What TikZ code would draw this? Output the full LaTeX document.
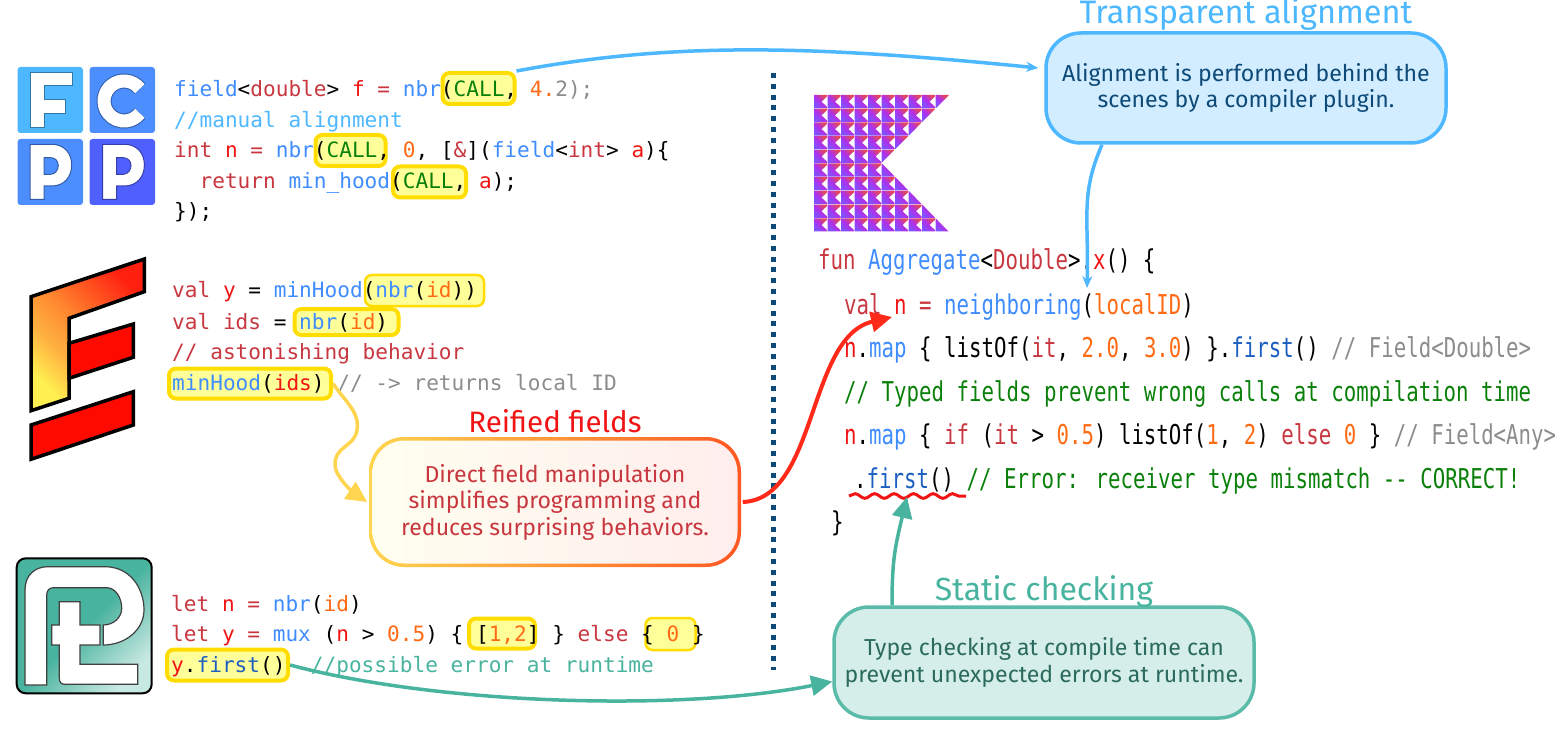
\documentclass[tikz,border=0pt]{standalone}
\usepackage{fontspec}
\usepackage{tikz}
\usetikzlibrary{positioning,arrows.meta,decorations.pathmorphing}
\setmainfont{Fira Sans}
\newfontfamily\codefont{DejaVu Sans Mono}
\newfontfamily\widecodefont[FakeStretch=0.76]{DejaVu Sans Mono}
\definecolor{kwred}{HTML}{C8373F}
\definecolor{varred}{HTML}{F01414}
\definecolor{fnblue}{HTML}{3F8CFF}
\definecolor{deepblue}{HTML}{1C5FC0}
\definecolor{litorange}{HTML}{FF6A14}
\definecolor{greyish}{HTML}{8C8C8C}
\definecolor{dgreen}{HTML}{0A800A}
\definecolor{skyblue}{HTML}{4DB8FF}
\definecolor{navy}{HTML}{0E4A78}
\definecolor{teal}{HTML}{48B39E}
\definecolor{hlline}{HTML}{FFDD00}
\definecolor{hlfill}{HTML}{FFFF99}
\definecolor{softyellow}{HTML}{FFD54F}
\definecolor{hotorange}{HTML}{FF5722}
\definecolor{hotred}{HTML}{FF2A1A}
\definecolor{funA}{HTML}{FFF050}
\definecolor{funB}{HTML}{FFB040}
\definecolor{funC}{HTML}{FF8A30}
\definecolor{funD}{HTML}{FF2010}
\pgfdeclareverticalshading{funshade}{100bp}{color(0bp)=(funA); color(25bp)=(funA); color(38bp)=(funB); color(50bp)=(funC); color(75bp)=(funD); color(100bp)=(funD)}
\newcommand{\kw}[1]{\textcolor{kwred}{#1}}
\newcommand{\vr}[1]{\textcolor{varred}{#1}}
\newcommand{\fn}[1]{\textcolor{fnblue}{#1}}
\newcommand{\dfn}[1]{\textcolor{deepblue}{#1}}
\newcommand{\lit}[1]{\textcolor{litorange}{#1}}
\newcommand{\gry}[1]{\textcolor{greyish}{#1}}
\newcommand{\grn}[1]{\textcolor{dgreen}{#1}}
\begin{document}
\begin{tikzpicture}[x=1pt,y=-1pt,
                hilite/.style={draw=hlline, fill=hlfill, rounded corners=7pt, line width=4pt, inner sep=0pt},
                thinhilite/.style={hilite, line width=2.5pt},
                code/.style={anchor=base west, inner sep=0pt, font=\codefont\fontsize{21.1}{21.1}\selectfont},
                rcode/.style={anchor=base west, inner sep=0pt, font=\widecodefont\fontsize{27.3}{27.3}\selectfont},
                callout/.style={rounded corners=35pt, line width=3.5pt, align=center, inner sep=0pt,
                  font=\fontsize{23.1}{26.5}\selectfont},
                headline/.style={inner sep=0pt, font=\fontsize{32}{32}\selectfont},
                arrow/.style={line width=3.5pt, -{Triangle[length=21pt,width=20pt]}},
                finearrow/.style={line width=3.5pt, -{Stealth[length=12pt,width=10pt]}},
                lettershape/.style={fill=white, draw=black!35!#1, line width=1pt, even odd rule},
                kotlintile/.style={bottom color=kotlinA, top color=kotlinC, middle color=kotlinB, shading angle=-45}]
  \definecolor{kotlinA}{HTML}{7F52FF}
  \definecolor{kotlinB}{HTML}{B030E8}
  \definecolor{kotlinC}{HTML}{E44857}
  \definecolor{fcppA}{HTML}{4DB8FF}
  \definecolor{fcppB}{HTML}{4D8EFF}
  \definecolor{fcppC}{HTML}{5060FF}
  \useasboundingbox (0,0) rectangle (1555,735);

  \fill[fcppA, rounded corners=3pt] (17.5,67) rectangle (83,133);
  \fill[fcppB, rounded corners=3pt] (89.5,67) rectangle (155,133);
  \fill[fcppB, rounded corners=3pt] (17.5,139) rectangle (83,205);
  \fill[fcppC, rounded corners=3pt] (89.5,139) rectangle (155,205);
  \draw[lettershape=fcppA] (30,72.3) -- (72.3,72.3) -- (72.3,86) -- (44,86) -- (44,100) -- (65.7,100)
    -- (65.7,113.3) -- (44,113.3) -- (44,127.7) -- (30,127.7) -- cycle;
  \draw[black!35!fcppB, line width=15pt] (139.8,88.7) arc[start angle=38, end angle=322, radius=20pt];
  \draw[white, line width=13pt] (139.8,88.7) arc[start angle=38, end angle=322, radius=20pt];
  \foreach \shiftx/\tone in {0/fcppB,72.7/fcppC} {
    \draw[lettershape=\tone, shift={(\shiftx,0)}] (30,144.3) -- (51.7,144.3)
      .. controls (64,144.3) and (71.7,153) .. (71.7,165) .. controls (71.7,177) and (64,186) .. (51.7,186)
      -- (44,186) -- (44,199.3) -- (30,199.3) -- cycle
      (44,157.7) -- (50.7,157.7) .. controls (55,157.7) and (58.3,161) .. (58.3,165.5)
      .. controls (58.3,170) and (55,174.3) .. (50.7,174.3) -- (44,174.3) -- cycle;
  }

  \draw[black, line width=3.5pt, shading=funshade, shading angle=-45]
    (31,296.7) -- (144.3,259) -- (144.3,291.7) -- (69,318.3) -- (69,398.3) -- (31,410.7) -- cycle;
  \draw[black, line width=3.5pt, fill=red!92!orange] (69,343.3) -- (133.3,324) -- (133.3,357.3) -- (69,378.3) -- cycle;
  \draw[black, line width=3.5pt, fill=red!92!orange] (31,425) -- (133.3,391.7) -- (133.3,425) -- (31,459.3) -- cycle;

  \draw[black, line width=2pt, rounded corners=9pt, bottom color=teal!30!white, top color=teal, middle color=teal, shading angle=45]
    (16.7,558.3) rectangle (151.7,693.3);
  \draw[black!75, fill=white, line width=1.2pt] (25,685) -- (25,590) .. controls (25,575) and (35,566.7) .. (48,566.7)
    -- (105,566.7) .. controls (130,566.7) and (144,588) .. (144,610) .. controls (144,630) and (125,645) .. (103.3,645)
    -- (103.3,625) .. controls (113,625) and (121.7,618) .. (121.7,608.3) .. controls (121.7,597) and (115,587.7) .. (106.7,587.7)
    -- (53.3,587.7) .. controls (49,587.7) and (46.7,591) .. (46.7,595) -- (46.7,685) -- cycle;
  \draw[black!75, fill=white, line width=1.2pt] (59.3,601.7) -- (80,601.7) -- (80,625) -- (100,625) -- (100,645) -- (80,645)
    -- (80,664.3) -- (137.7,664.3) -- (137.7,684.3) -- (65,684.3) .. controls (61,684.3) and (59.3,682) .. (59.3,678.3)
    -- (59.3,645) -- (51.7,645) -- (51.7,625) -- (59.3,625) -- cycle;

  \begin{scope}
    \clip (814,95) -- (949,95) -- (881.5,163) -- (949,232) -- (814,232) -- cycle;
    \foreach \col in {0,...,9} {
      \foreach \row in {0,...,9} {
        \path[kotlintile, shift={(814+13.5*\col,95+13.7*\row)}]
          (0,0) -- (13,0) -- (13,1.5) -- (7.5,6.7) -- (13,11.8) -- (13,13.2) -- (0,13.2) -- cycle;
      }
    }
  \end{scope}

  \node[hilite, minimum width=72pt, minimum height=31pt] (callA) at (478.5,88.5) {};
  \node[hilite, minimum width=70pt, minimum height=31pt] (callB) at (350.5,150.5) {};
  \node[hilite, minimum width=73pt, minimum height=31pt] (callC) at (429.5,182) {};
  \node[thinhilite, minimum width=119pt, minimum height=31pt] (hoodBox) at (424.5,290.5) {};
  \node[hilite, minimum width=104pt, minimum height=26pt] (nbrBox) at (346.5,322) {};
  \node[hilite, minimum width=162pt, minimum height=30pt] (idsBox) at (250,383.5) {};
  \node[hilite, minimum width=66pt, minimum height=30pt] (listBox) at (502,633.5) {};
  \node[thinhilite, minimum width=50pt, minimum height=32pt] (zeroBox) at (670.5,634) {};
  \node[hilite, minimum width=121pt, minimum height=31pt] (firstBox) at (227.5,665) {};

  \node[code] (fa) at (174,97) {\fn{field}<\kw{double}> \vr{f} \kw{=} \fn{nbr}(\grn{CALL}, \lit{4.}\gry{2);}};
  \node[code] (fb) at (174,128) {\textcolor{skyblue}{//manual alignment}};
  \node[code] (fc) at (174,158) {\kw{int} \vr{n} \kw{=} \fn{nbr}(\grn{CALL}, \lit{0}, [\kw{\&}](\fn{field}<\kw{int}> \vr{a})\{};
  \node[code] (fd) at (174,189) {~~\kw{return} \fn{min\_hood}(\grn{CALL}, \vr{a});};
  \node[code] (fe) at (174,219) {\});};

  \node[code] (sa) at (172,298) {\kw{val} \vr{y} = \fn{minHood}(\fn{nbr}(\lit{id}))};
  \node[code] (sb) at (172,329) {\kw{val ids} = \fn{nbr}(\lit{id})};
  \node[code] (sc) at (172,359.5) {\kw{// astonishing behavior}};
  \node[code] (sd) at (172,390) {\fn{minHood}(\vr{ids}) \gry{// -> returns local ID}};

  \node[code] (pa) at (171,611) {\kw{let} \vr{n} \kw{=} \fn{nbr}(\lit{id})};
  \node[code] (pb) at (171,641.5) {\kw{let} \vr{y} \kw{=} \fn{mux} (\vr{n} > \lit{0.5}) \{ [\lit{1,2}] \} \kw{else} \{ \lit{0} \}};
  \node[code] (pc) at (171,672) {\vr{y}.\dfn{first}()~~\textcolor{teal}{//possible error at runtime}};

  \node[rcode] (ka) at (818,270) {\kw{fun} \fn{Aggregate}<\kw{Double}>.\vr{x}() \{};
  \node[rcode] (kb) at (844,314) {\kw{val} \vr{n} \kw{=} \fn{neighboring}(\lit{localID})};
  \node[rcode] (kc) at (844,357) {\vr{n}.\fn{map} \{ listOf(\kw{it}, \lit{2.0}, \lit{3.0}) \}.\dfn{first}() \gry{// Field<Double>}};
  \node[rcode] (kd) at (844,401) {\grn{// Typed fields prevent wrong calls at compilation time}};
  \node[rcode] (ke) at (844,444) {\vr{n}.\fn{map} \{ \kw{if} (\kw{it} > \lit{0.5}) listOf(\lit{1}, \lit{2}) \kw{else} \lit{0} \} \gry{// Field<Any>}};
  \node[rcode] (kf) at (854,488) {.\dfn{first}() \grn{// Error: receiver type mismatch -- CORRECT!}};
  \node[rcode] (kg) at (831,531) {\}};

  \coordinate (sepTop) at (773,73);
  \coordinate (sepBottom) at (773,670);
  \draw[navy, line width=5pt, dash pattern=on 5pt off 5.8pt] (sepTop) -- (sepBottom);

  \coordinate (waveLeft) at (849,496);
  \coordinate (waveRight) at (966,496);
  \draw[varred, line width=3pt, decorate, decoration={snake, segment length=19.5pt, amplitude=2.3pt}] (waveLeft) -- (waveRight);

  \node[callout, draw=skyblue, fill=skyblue!25!white, text=navy, minimum width=400pt, minimum height=110pt] (transp) at (1246,88) {Alignment is performed behind the\\scenes by a compiler plugin.};
  \node[headline, text=skyblue, above=1pt of transp, font=\fontsize{32.5}{32.5}\selectfont] (transpTitle) {Transparent alignment};

  \node[callout, left color=softyellow, right color=hotorange, minimum width=372pt, minimum height=130pt] (reified) at (555,502) {};
  \node[callout, left color=yellow!6!white, right color=red!7!white, text=kwred, minimum width=365pt, minimum height=123pt, rounded corners=32pt] (reifiedInner) at (reified.center) {Direct field manipulation\\simplifies programming and\\reduces surprising behaviors.};
  \node[headline, text=varred, above=2pt of reified, font=\fontsize{29.5}{29.5}\selectfont] (reifiedTitle) {Reified fields};

  \node[callout, draw=teal!90!white, fill=teal!23!white, text=teal!60!black, minimum width=420pt, minimum height=111pt] (static) at (1044,662.5) {Type checking at compile time can\\prevent unexpected errors at runtime.};
  \node[headline, text=teal, above=-2pt of static] (staticTitle) {Static checking};

  \coordinate (alignTip) at (1087,288);
  \coordinate (redTip) at (892,317);
  \coordinate (yellowBend) at (357,430);
  \coordinate (yellowLow) at (335,465);
  \coordinate (staticTip) at (907,497);

  \draw[skyblue, finearrow] (callA.north east) .. controls +(160,-30) and +(-220,-22) .. ([xshift=-6pt,yshift=20pt]transp.west);
  \draw[skyblue, finearrow] ([xshift=-144pt]transp.south) .. controls +(-22,50) and +(2,-70) .. (alignTip);
  \draw[hotred, arrow, line width=4pt] (reified.east) .. controls +(75,-3) and +(-85,20) .. (redTip);
  \draw[softyellow, arrow] (idsBox.east) .. controls +(12,18) and +(3,-18) .. (yellowBend) .. controls +(-3,18) and +(0,-20) .. (yellowLow) .. controls +(0,12) and +(-12,-8) .. (reified.west);
  \draw[teal, arrow] (firstBox.east) .. controls +(150,40) and +(-150,30) .. ([yshift=-19pt]static.west);
  \draw[teal, arrow] ([xshift=-152pt]static.north) .. controls +(0,-45) and +(-12,50) .. (staticTip);
\end{tikzpicture}
\end{document}
